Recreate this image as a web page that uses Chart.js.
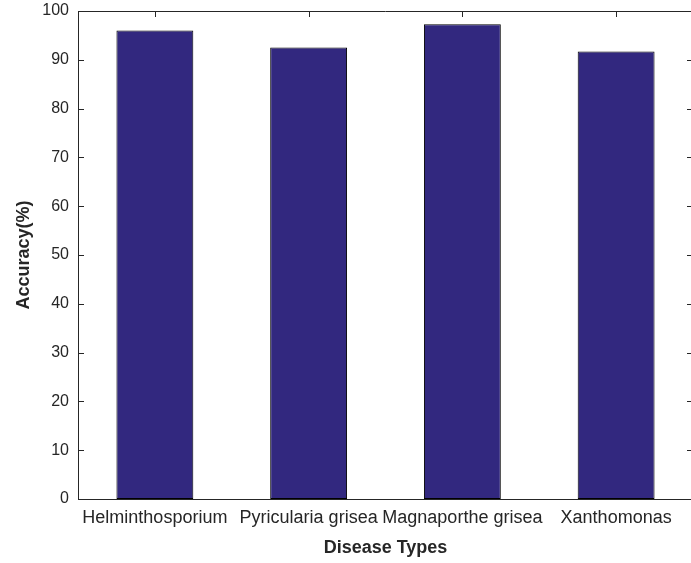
<!DOCTYPE html>
<html>
<head>
<meta charset="utf-8">
<script src="https://cdn.jsdelivr.net/npm/chart.js@4/dist/chart.umd.min.js"></script>
<style>
  html, body { margin: 0; padding: 0; background: #fff; overflow: hidden; }
  #wrap { width: 700px; height: 563px; }
</style>
</head>
<body>
<div id="wrap"><canvas id="chart" width="700" height="563"></canvas></div>
<script>
// ----------------------- Data ----------------------------------
const diseaseTypes = ['Helminthosporium', 'Pyricularia grisea', 'Magnaporthe grisea', 'Xanthomonas'];
const accuracy = [96.0, 92.5, 97.3, 91.7];
const yTicks = [0, 10, 20, 30, 40, 50, 60, 70, 80, 90, 100];

const axisColor = '#262626';
const barColor = '#32287f';

// draws the matlab style box + inward tick marks
const boxPlugin = {
  id: 'box',
  beforeDatasetsDraw(chart) {
    const { ctx, chartArea: a, scales: { x, y } } = chart;
    const len = 6;
    ctx.save();
    ctx.strokeStyle = axisColor;
    ctx.lineWidth = 1;
    ctx.beginPath();
    yTicks.forEach(v => {
      const py = Math.round(y.getPixelForValue(v)) + 0.5;
      ctx.moveTo(a.left, py); ctx.lineTo(a.left + len, py);
      ctx.moveTo(a.right, py); ctx.lineTo(a.right - len, py);
    });
    diseaseTypes.forEach((_, i) => {
      const px = Math.round(x.getPixelForValue(i)) + 0.5;
      ctx.moveTo(px, a.top); ctx.lineTo(px, a.top + len);
      ctx.moveTo(px, a.bottom); ctx.lineTo(px, a.bottom - len);
    });
    ctx.stroke();
    ctx.beginPath();
    ctx.moveTo(a.left, Math.round(a.top) + 0.5);
    ctx.lineTo(a.right, Math.round(a.top) + 0.5);
    ctx.moveTo(Math.round(a.right) + 0.5, a.top);
    ctx.lineTo(Math.round(a.right) + 0.5, a.bottom);
    ctx.stroke();
    ctx.restore();
  }
};

new Chart(document.getElementById('chart'), {
  type: 'bar',
  data: {
    labels: diseaseTypes,
    datasets: [{
      data: accuracy,
      backgroundColor: barColor,
      borderColor: '#000',
      borderWidth: 1,
      borderSkipped: false,
      barPercentage: 0.5,
      categoryPercentage: 1
    }]
  },
  options: {
    responsive: false,
    animation: false,
    layout: { padding: { left: 0, top: 11, right: 7, bottom: 0 } },
    plugins: { legend: { display: false }, tooltip: { enabled: false } },
    scales: {
      x: {
        grid: { display: false, drawTicks: false },
        border: { display: true, color: axisColor, width: 1 },
        ticks: {
          color: axisColor,
          padding: 8,
          maxRotation: 0,
          autoSkip: false,
          font: { family: 'Liberation Sans, Arial, sans-serif', size: 18 }
        },
        title: {
          display: true,
          text: 'Disease Types',
          color: axisColor,
          padding: { top: 0, bottom: 4 },
          font: { family: 'Liberation Sans, Arial, sans-serif', size: 18, weight: 'bold' }
        },
        afterFit(scale) { scale.height = 64; scale.paddingLeft = 0; scale.paddingRight = 0; }
      },
      y: {
        min: 0,
        max: 100,
        grid: { display: false, drawTicks: false },
        border: { display: true, color: axisColor, width: 1 },
        ticks: {
          stepSize: 10,
          color: axisColor,
          padding: 9,
          font: { family: 'Liberation Sans, Arial, sans-serif', size: 16 }
        },
        title: {
          display: true,
          text: 'Accuracy(%)',
          color: axisColor,
          padding: { top: 13, bottom: 0 },
          font: { family: 'Liberation Sans, Arial, sans-serif', size: 18, weight: 'bold' }
        },
        afterFit(scale) { scale.width = 78; scale.paddingTop = 0; scale.paddingBottom = 0; }
      }
    }
  },
  plugins: [boxPlugin]
});
</script>
</body>
</html>
